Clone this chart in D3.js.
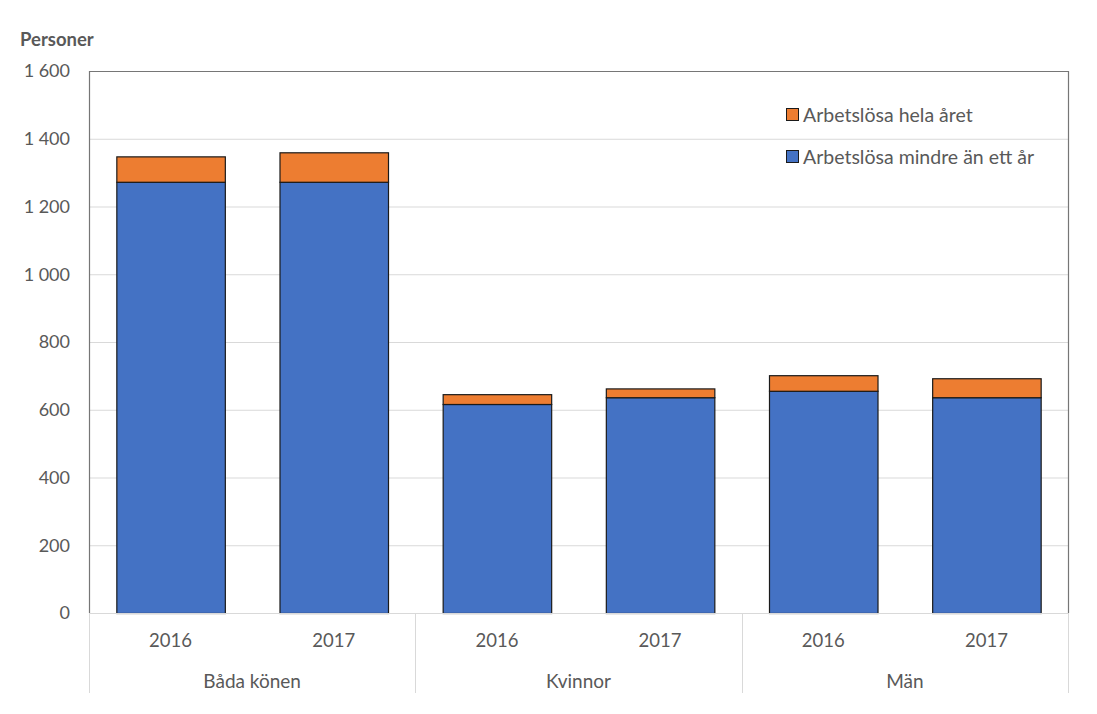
<!DOCTYPE html>
<html><head><meta charset="utf-8">
<script src="https://cdn.jsdelivr.net/npm/d3@7"></script>
<style>
body{margin:0;background:#fff;}
text{font-family:"Lato","Open Sans",sans-serif;fill:#595959;}
</style></head>
<body>
<svg id="chart" width="1097" height="714"></svg>
<script>
const groups = ["Båda könen","Kvinnor","Män"];
const years = ["2016","2017"];
const lessThanYear = [1273, 1273, 617, 637, 656, 637];
const wholeYear = [75, 87, 29, 26, 46, 56];
const seriesNames = ["Arbetslösa mindre än ett år","Arbetslösa hela året"];
const yTicks = [0,200,400,600,800,1000,1200,1400,1600];
const colors = ["#4472c4","#ed7d31"];

const rows = [];
groups.forEach((g,gi)=>years.forEach((y,yi)=>{
  const i = gi*2+yi;
  rows.push({key:g+"|"+y, group:g, year:y, less:lessThanYear[i], whole:wholeYear[i]});
}));

const svg = d3.select("#chart");
const m = {l:89, r:1068, t:71, b:613};
const x = d3.scaleBand().domain(rows.map(d=>d.key)).range([m.l,m.r]).paddingInner(0.335).paddingOuter(0.1675);
const y = d3.scaleLinear().domain([0,1600]).range([m.b,m.t]);
const fmt = v => d3.format(",")(v).replace(/,/g," ");

// gridlines
svg.append("g").selectAll("line").data(yTicks.filter(t=>t>0 && t<1600)).join("line")
  .attr("x1",m.l).attr("x2",m.r).attr("y1",d=>y(d)+0.5).attr("y2",d=>y(d)+0.5)
  .attr("stroke","#d9d9d9").attr("stroke-width",1);

// y tick labels
svg.append("g").selectAll("text").data(yTicks).join("text")
  .attr("x",70).attr("y",d=>y(d)).attr("dy","0.35em").attr("text-anchor","end")
  .style("font-size","18px").text(fmt);

// stacked bars
const stack = d3.stack().keys(["less","whole"])(rows);
svg.append("g").selectAll("g").data(stack).join("g")
  .attr("fill",(d,i)=>colors[i])
  .selectAll("rect").data(d=>d).join("rect")
  .attr("x",d=>x(d.data.key)+0.5).attr("width",x.bandwidth())
  .attr("y",d=>y(d[1])+0.5).attr("height",d=>y(d[0])-y(d[1]))
  .attr("stroke","#1a1a1a").attr("stroke-width",1.2);

// axis bottom line
svg.append("line").attr("x1",m.l).attr("x2",m.r).attr("y1",m.b+0.5).attr("y2",m.b+0.5).attr("stroke","#d9d9d9");
// plot border (left, top, right)
svg.append("path").attr("d",`M${m.l+0.5},${m.b}V${m.t+0.5}H${m.r+0.5}V${m.b}`)
  .attr("fill","none").attr("stroke","#767676").attr("stroke-width",1.2);

// category separators
const groupWidth = (m.r-m.l)/groups.length;
const seps = d3.range(groups.length+1).map(i=>m.l+i*groupWidth);
svg.append("g").selectAll("line").data(seps).join("line")
  .attr("x1",d=>Math.round(d)+0.5).attr("x2",d=>Math.round(d)+0.5)
  .attr("y1",m.b).attr("y2",693).attr("stroke","#d9d9d9").attr("stroke-width",1);

// year labels
svg.append("g").selectAll("text").data(rows).join("text")
  .attr("x",d=>x(d.key)+x.bandwidth()/2).attr("y",641).attr("dy","0.35em")
  .attr("text-anchor","middle").style("font-size","18.5px").text(d=>d.year);
// group labels
svg.append("g").selectAll("text").data(groups).join("text")
  .attr("x",(d,i)=>m.l+(i+0.5)*groupWidth).attr("y",681).attr("dy","0.35em")
  .attr("text-anchor","middle").style("font-size","19px").text(d=>d);

// axis title
svg.append("text").attr("x",20).attr("y",40).attr("dy","0.35em")
  .style("font-size","18.5px").style("font-weight","bold").text("Personer");

// legend
const legend = [{name:seriesNames[1],color:colors[1]},{name:seriesNames[0],color:colors[0]}];
const lg = svg.append("g").selectAll("g").data(legend).join("g")
  .attr("transform",(d,i)=>`translate(786,${115+i*42})`);
lg.append("rect").attr("x",0.5).attr("y",-6.5).attr("width",12).attr("height",12)
  .attr("fill",d=>d.color).attr("stroke","#1a1a1a").attr("stroke-width",1);
lg.append("text").attr("x",17).attr("y",0).attr("dy","0.35em").style("font-size","19.5px").text(d=>d.name);
</script>
</body></html>
